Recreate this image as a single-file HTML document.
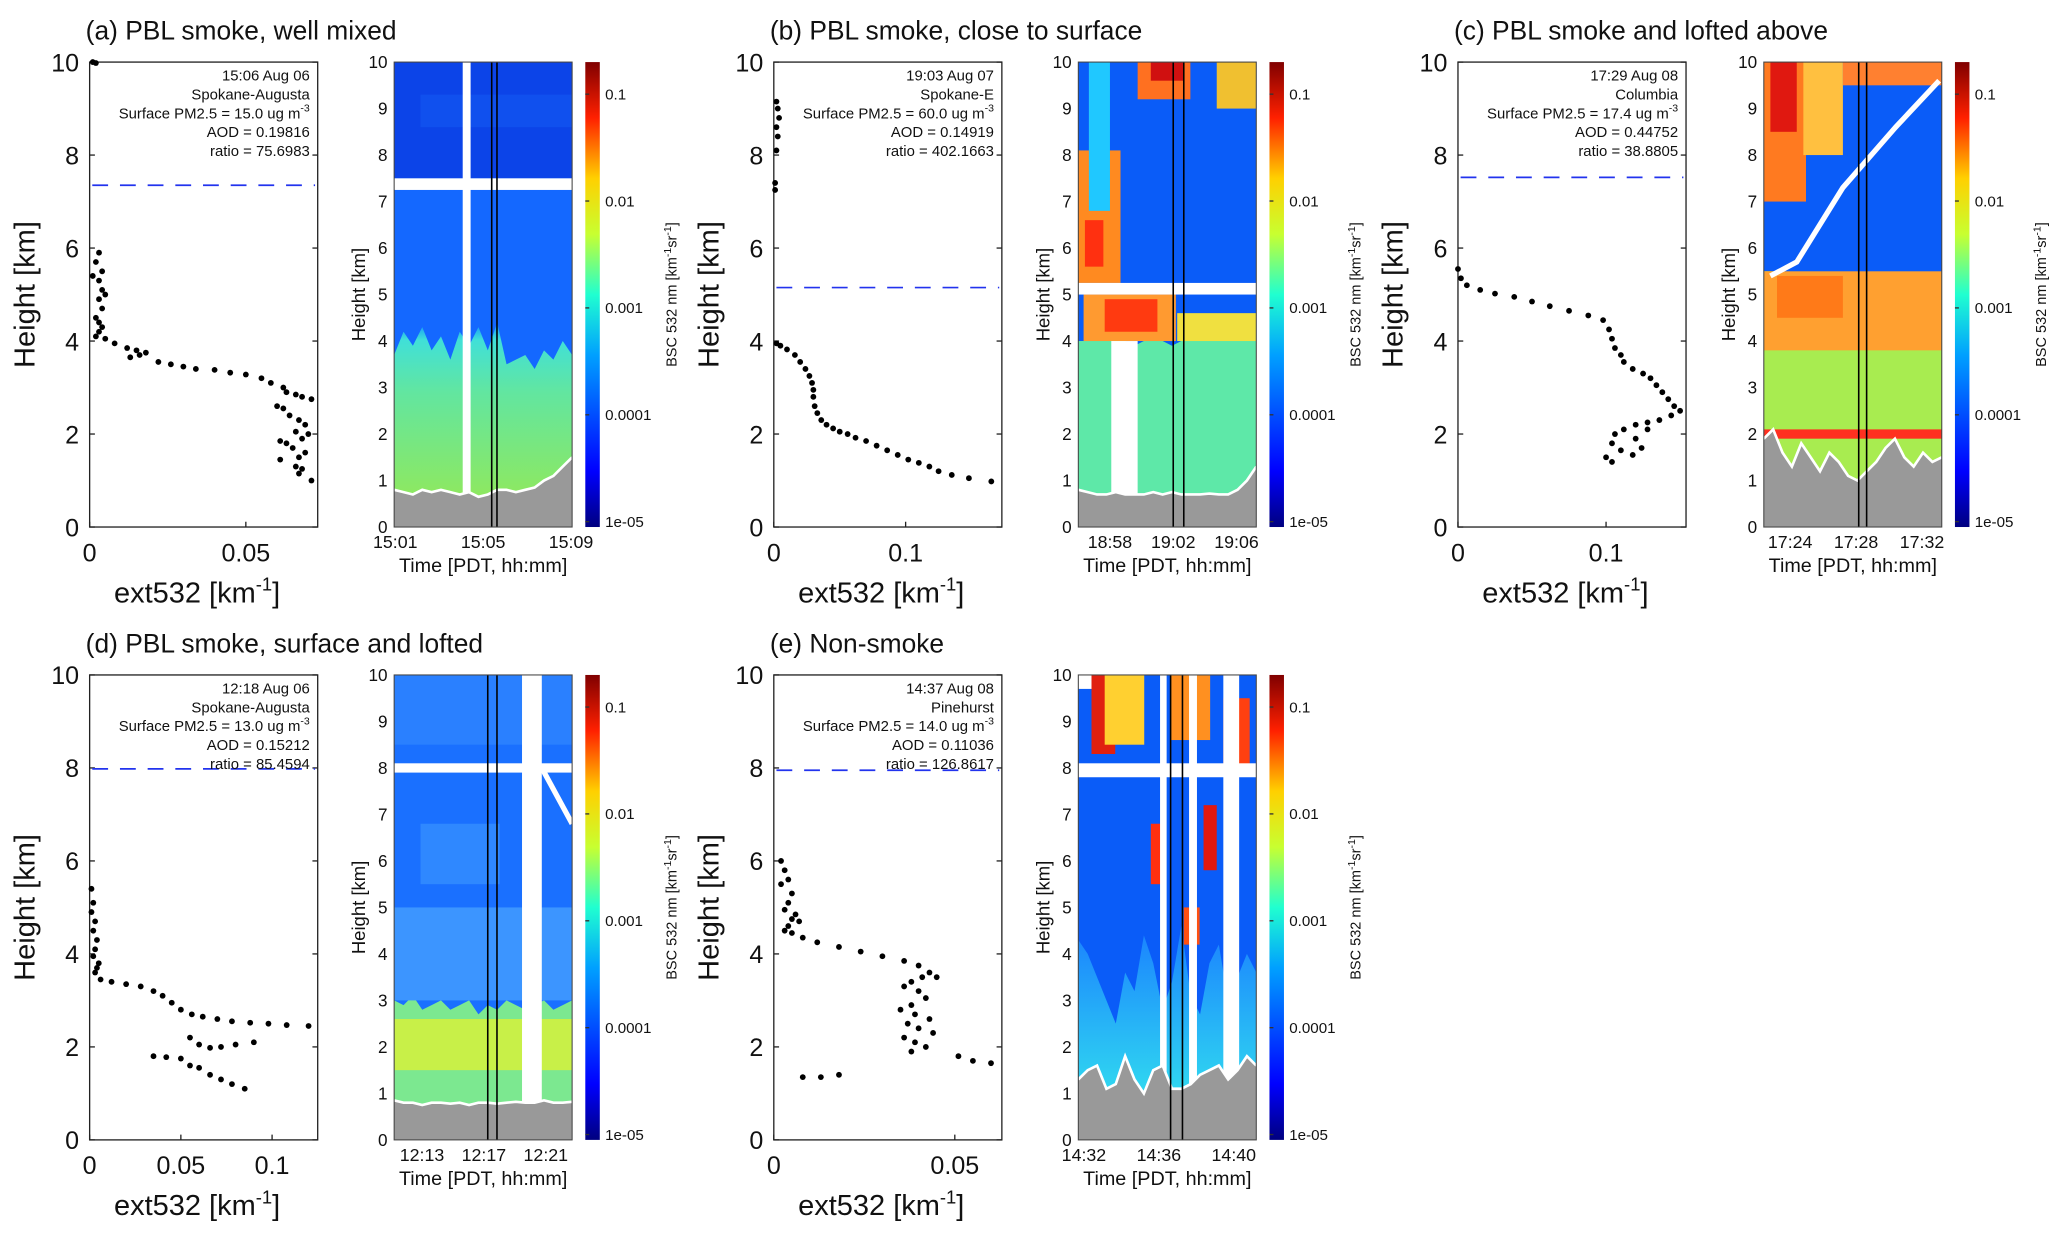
<!DOCTYPE html>
<html><head><meta charset="utf-8"><title>PBL smoke profiles</title>
<style>
html,body{margin:0;padding:0;background:#fff;}
svg{display:block;}
text{font-family:"Liberation Sans",Arial,sans-serif;fill:#111;}
</style></head>
<body>
<svg id="fig" xmlns="http://www.w3.org/2000/svg" width="2067" height="1235" viewBox="0 0 1568 935" preserveAspectRatio="none">
<defs>
<linearGradient id="jet" x1="0" y1="1" x2="0" y2="0">
<stop offset="0" stop-color="#00007f"/><stop offset="0.12" stop-color="#0000ff"/>
<stop offset="0.37" stop-color="#00a0ff"/><stop offset="0.5" stop-color="#20ffd0"/>
<stop offset="0.63" stop-color="#c8ff30"/><stop offset="0.75" stop-color="#ffd000"/>
<stop offset="0.88" stop-color="#ff2000"/><stop offset="1" stop-color="#800000"/>
</linearGradient>
<linearGradient id="aer" x1="0" y1="1" x2="0" y2="0">
<stop offset="0" stop-color="#8ee860"/><stop offset="0.6" stop-color="#62e6a0"/><stop offset="0.9" stop-color="#40e0d8"/><stop offset="1" stop-color="#1090ff"/>
</linearGradient>
<linearGradient id="aerE" x1="0" y1="1" x2="0" y2="0">
<stop offset="0" stop-color="#30d8f0"/><stop offset="1" stop-color="#1a80ff"/>
</linearGradient>
</defs>
</svg>
<script>
// ---- data ----
const aExt=[0.001,0.002,0.003,0.002,0.004,0.003,0.001,0.004,0.003,0.005,0.004,0.002,0.003,0.004,0.003,0.002,0.005,0.008,0.012,0.015,0.016,0.013,0.018,0.022,0.026,0.03,0.034,0.04,0.045,0.05,0.055,0.058,0.062,0.063,0.066,0.06,0.068,0.071,0.062,0.064,0.067,0.069,0.066,0.07,0.068,0.061,0.063,0.065,0.069,0.067,0.061,0.066,0.068,0.067,0.071];
const aH=[10,9.98,5.9,5.7,5.5,5.3,5.4,5.1,4.9,5.0,4.7,4.5,4.4,4.3,4.2,4.1,4.05,3.95,3.85,3.8,3.7,3.65,3.75,3.55,3.5,3.45,3.4,3.38,3.32,3.28,3.2,3.1,3.0,2.9,2.85,2.6,2.8,2.75,2.55,2.4,2.3,2.2,2.05,2.0,1.9,1.85,1.8,1.7,1.6,1.5,1.45,1.3,1.25,1.15,1.0];
const bExt=[0.002,0.003,0.004,0.002,0.003,0.002,0.001,0.001,0.002,0.005,0.01,0.016,0.02,0.024,0.027,0.029,0.03,0.03,0.031,0.033,0.036,0.04,0.045,0.05,0.056,0.062,0.07,0.078,0.086,0.094,0.102,0.11,0.118,0.125,0.135,0.148,0.165];
const bH=[9.15,9.0,8.8,8.6,8.4,8.1,7.4,7.25,3.95,3.9,3.82,3.7,3.55,3.4,3.25,3.1,2.95,2.8,2.6,2.45,2.3,2.2,2.12,2.05,2.0,1.92,1.85,1.75,1.65,1.55,1.45,1.38,1.3,1.2,1.12,1.05,0.98];
const cExt=[0.0,0.002,0.006,0.015,0.025,0.038,0.05,0.062,0.075,0.088,0.098,0.102,0.104,0.106,0.11,0.112,0.118,0.125,0.13,0.134,0.138,0.142,0.146,0.15,0.144,0.136,0.128,0.12,0.112,0.106,0.104,0.11,0.118,0.124,0.1,0.104,0.12,0.128];
const cH=[5.55,5.35,5.2,5.1,5.02,4.95,4.85,4.75,4.65,4.55,4.45,4.25,4.05,3.85,3.7,3.55,3.4,3.3,3.2,3.05,2.9,2.75,2.6,2.5,2.4,2.3,2.25,2.2,2.1,2.0,1.8,1.65,1.55,1.7,1.5,1.4,1.9,2.1];
const dExt=[0.001,0.002,0.001,0.003,0.002,0.004,0.003,0.002,0.005,0.004,0.003,0.006,0.012,0.02,0.028,0.035,0.04,0.045,0.05,0.056,0.062,0.07,0.078,0.088,0.098,0.108,0.12,0.055,0.06,0.066,0.072,0.08,0.09,0.035,0.042,0.05,0.055,0.06,0.066,0.072,0.078,0.085];
const dH=[5.4,5.1,4.9,4.7,4.5,4.3,4.1,3.95,3.8,3.7,3.6,3.45,3.4,3.35,3.3,3.2,3.1,2.95,2.8,2.7,2.65,2.6,2.55,2.52,2.5,2.47,2.45,2.2,2.05,1.98,2.0,2.05,2.1,1.8,1.78,1.75,1.6,1.55,1.4,1.3,1.2,1.1];
const eExt=[0.002,0.003,0.004,0.002,0.005,0.004,0.003,0.006,0.005,0.007,0.004,0.003,0.005,0.008,0.012,0.018,0.024,0.03,0.036,0.04,0.043,0.041,0.038,0.036,0.04,0.042,0.038,0.035,0.039,0.043,0.037,0.04,0.044,0.036,0.039,0.042,0.038,0.045,0.051,0.055,0.06,0.008,0.013,0.018];
const eH=[6.0,5.8,5.6,5.5,5.3,5.1,4.95,4.85,4.75,4.7,4.6,4.5,4.45,4.35,4.25,4.15,4.05,3.95,3.85,3.75,3.6,3.5,3.4,3.3,3.2,3.05,2.9,2.8,2.7,2.6,2.5,2.4,2.3,2.2,2.1,2.0,1.9,3.5,1.8,1.7,1.65,1.35,1.35,1.4];
const xTickA=[0,0.05], xTickB=[0,0.1], xTickC=[0,0.1], xTickD=[0,0.05,0.1], xTickE=[0,0.05];
const yTicksProfile=[0,2,4,6,8,10];
const yTicksCurtain=[0,1,2,3,4,5,6,7,8,9,10];
const cbTicks=[1e-5,1e-4,1e-3,1e-2,1e-1];
const cbLabels=['1e-05','0.0001','0.001','0.01','0.1'];
const timeLabelsA=['15:01','15:05','15:09'], timeLabelsB=['18:58','19:02','19:06'], timeLabelsC=['17:24','17:28','17:32'], timeLabelsD=['12:13','12:17','12:21'], timeLabelsE=['14:32','14:36','14:40'];
const timeTicks=[0,4,8];
// curtain layer heights (km) per time column
const aAerTop=[3.7,4.2,3.9,4.3,3.8,4.1,3.6,4.2,3.9,4.3,3.8,4.4,3.5,3.6,3.7,3.4,3.8,3.6,4.0,3.7];
const aGround=[0.8,0.75,0.7,0.8,0.75,0.8,0.75,0.7,0.75,0.65,0.7,0.8,0.8,0.75,0.8,0.85,1.0,1.1,1.3,1.5];
const bAerTop=[4.0,4.0,4.0,4.0,4.1,4.0,3.9,4.0,4.1,4.0,3.9,4.0,4.0,4.0,4.0,4.0,4.0,4.0,4.0,4.0];
const bGround=[0.8,0.75,0.7,0.7,0.75,0.7,0.7,0.7,0.75,0.7,0.75,0.7,0.7,0.7,0.72,0.7,0.7,0.8,1.0,1.3];
const cAerTop=[5.5,5.5,5.5,5.4,5.2,5.1,5.2,5.0,5.3,5.2,5.4,5.3,5.2,5.1,5.3,5.2,5.0,5.2,5.1,5.0];
const cGround=[1.9,2.1,1.6,1.3,1.8,1.5,1.2,1.6,1.4,1.1,1.0,1.2,1.4,1.7,1.9,1.5,1.3,1.6,1.4,1.5];
const dAerTop=[3.0,2.9,3.1,2.8,2.9,3.0,2.8,2.9,3.0,2.7,2.9,2.8,3.0,2.9,2.8,2.9,3.0,2.8,2.9,3.0];
const dGround=[0.85,0.8,0.8,0.75,0.8,0.8,0.78,0.8,0.75,0.8,0.8,0.78,0.8,0.82,0.8,0.8,0.85,0.8,0.8,0.82];
const eAerTop=[4.3,4.0,3.5,3.0,2.5,3.6,3.2,4.4,3.8,2.8,3.4,4.6,3.1,2.7,3.8,4.2,3.0,3.5,4.0,3.6];
const eGround=[1.3,1.5,1.6,1.1,1.2,1.8,1.3,1.0,1.5,1.6,1.1,1.1,1.2,1.4,1.5,1.6,1.3,1.5,1.8,1.6];

const NS='http://www.w3.org/2000/svg';
const svg=document.getElementById('fig');
function mk(tag,attrs,parent){const e=document.createElementNS(NS,tag);for(const k in attrs)e.setAttribute(k,attrs[k]);(parent||svg).appendChild(e);return e;}
function txt(s,attrs,parent){const e=mk('text',attrs,parent);e.textContent=s;return e;}

const panels=[
 {id:'a',title:'(a) PBL smoke, well mixed',px:68,cx:299,y0:47,xmax:0.073,xt:xTickA,ext:aExt,h:aH,dash:7.35,info:['15:06 Aug 06','Spokane-Augusta','Surface PM2.5 = 15.0 ug m','AOD = 0.19816','ratio = 75.6983'],tl:timeLabelsA,t0:-0.05,t1:8.05,aer:aAerTop,gr:aGround,kind:'a',black:[373,377]},
 {id:'b',title:'(b) PBL smoke, close to surface',px:587,cx:818,y0:47,xmax:0.173,xt:xTickB,ext:bExt,h:bH,dash:5.15,info:['19:03 Aug 07','Spokane-E','Surface PM2.5 = 60.0 ug m','AOD = 0.14919','ratio = 402.1663'],tl:timeLabelsB,t0:-2,t1:9.25,aer:bAerTop,gr:bGround,kind:'b',black:[890,898]},
 {id:'c',title:'(c) PBL smoke and lofted above',px:1106,cx:1338,y0:47,xmax:0.154,xt:xTickC,ext:cExt,h:cH,dash:7.52,info:['17:29 Aug 08','Columbia','Surface PM2.5 = 17.4 ug m','AOD = 0.44752','ratio = 38.8805'],tl:timeLabelsC,t0:-1.6,t1:9.2,aer:cAerTop,gr:cGround,kind:'c',black:[1410,1416]},
 {id:'d',title:'(d) PBL smoke, surface and lofted',px:68,cx:299,y0:511,xmax:0.125,xt:xTickD,ext:dExt,h:dH,dash:7.98,info:['12:18 Aug 06','Spokane-Augusta','Surface PM2.5 = 13.0 ug m','AOD = 0.15212','ratio = 85.4594'],tl:timeLabelsD,t0:-1.8,t1:9.7,aer:dAerTop,gr:dGround,kind:'d',black:[370,377]},
 {id:'e',title:'(e) Non-smoke',px:587,cx:818,y0:511,xmax:0.063,xt:xTickE,ext:eExt,h:eH,dash:7.95,info:['14:37 Aug 08','Pinehurst','Surface PM2.5 = 14.0 ug m','AOD = 0.11036','ratio = 126.8617'],tl:timeLabelsE,t0:-0.3,t1:9.2,aer:eAerTop,gr:eGround,kind:'e',black:[888,897]}
];
const PW=173, CW=135, H=352;

panels.forEach(p=>{
 const g=mk('g',{});
 
 
 const t=txt(p.title,{x:p.px-3,y:p.y0-17,'font-size':20},g);
 
 
 // ---- profile ----
 const yS=v=>p.y0+H-v/10*H;
 const xS=v=>p.px+v/p.xmax*PW;
 const pf=mk('g',{},g);
 
 
 const box=mk('rect',{x:p.px,y:p.y0,width:PW,height:H,fill:'none',stroke:'#222','stroke-width':1},pf);
 
 
 yTicksProfile.forEach(v=>{
  mk('line',{x1:p.px,x2:p.px+4,y1:yS(v),y2:yS(v),stroke:'#222'},pf);
  mk('line',{x1:p.px+PW-4,x2:p.px+PW,y1:yS(v),y2:yS(v),stroke:'#222'},pf);
  const l=txt(String(v),{x:p.px-8,y:yS(v)+7,'font-size':19,'text-anchor':'end'},pf);
  
  
 });
 p.xt.forEach(v=>{
  mk('line',{x1:xS(v),x2:xS(v),y1:p.y0+H,y2:p.y0+H-4,stroke:'#222'},pf);
  const l=txt(String(v),{x:xS(v),y:p.y0+H+26,'font-size':19,'text-anchor':'middle'},pf);
  
  
 });
 const yl=txt('Height [km]',{x:0,y:0,'font-size':22,'text-anchor':'middle',transform:`translate(${p.px-42},${p.y0+H/2}) rotate(-90)`},pf);
 
 
 const xl=mk('text',{x:p.px+PW/2-5,y:p.y0+H+57,'font-size':22,'text-anchor':'middle'},pf);
 xl.innerHTML='ext532 [km<tspan dy="-9" font-size="14">-1</tspan><tspan dy="9">]</tspan>';
 
 
 const dl=mk('line',{x1:p.px+2,x2:p.px+PW-2,y1:yS(p.dash),y2:yS(p.dash),stroke:'#2233ee','stroke-width':1.3,'stroke-dasharray':'12,9'},pf);
 
 
 p.info.forEach((s,i)=>{
  const it=txt(s,{x:p.px+PW-6,y:p.y0+14+i*14.3,'font-size':11.3,'text-anchor':'end'},pf);
  if(i===2){const ts=document.createElementNS(NS,'tspan');ts.setAttribute('dy','-5');ts.setAttribute('font-size','8');ts.textContent='-3';it.appendChild(ts);}
  
  
 });
 p.ext.forEach((v,i)=>{
  const c=mk('circle',{cx:xS(v),cy:yS(p.h[i]),r:2.2,fill:'#000'},pf);
  
  
 });
 // ---- curtain ----
 const cg=mk('g',{},g);
 
 
 const cy=v=>p.y0+H-v/10*H;
 const tx=m=>p.cx+(m-p.t0)/(p.t1-p.t0)*CW;
 const X0=p.cx,X1=p.cx+CW;
 const R=(x,y1,w,y2,f,nm)=>{const r=mk('rect',{x:x,y:cy(y2),width:w,height:cy(y1)-cy(y2),fill:f},cg);return r;};
 const bgCol={a:'#1468ff',b:'#0a5cf8',c:'#0a5cf8',d:'#1a70ff',e:'#0a5cf8'}[p.kind];
 R(X0,0,CW,10,bgCol,'curtain-background');
 const n=p.aer.length, colX=i=>X0+i/(n-1)*CW;
 let aerPts=[];p.aer.forEach((v,i)=>aerPts.push(colX(i)+','+cy(v)));
 for(let i=n-1;i>=0;i--)aerPts.push(colX(i)+','+cy(p.gr[i]));
 const aerFill={a:'url(#aer)',b:'#5ee8a8',c:'#a8ec50',d:'#7ce890',e:'url(#aerE)'}[p.kind];
 const ap=mk('polygon',{points:aerPts.join(' '),fill:aerFill},cg);
 
 
 if(p.kind==='a'){R(X0,7.5,CW,10,'#0c44e8','upper-layer');R(X0+20,8.6,CW-20,9.3,'#1050ee','upper-layer-band');R(X0,7.25,CW,7.5,'#fff','data-gap');R(351,0.7,6,10,'#fff','data-gap');}
 if(p.kind==='b'){
  R(X0,5.25,32,8.1,'#ff8a20');R(X0+5,5.6,14,6.6,'#ff3010');R(X0+8,6.8,16,10,'#20c8ff');R(X0+4,4.0,70,5.0,'#ff9a30');R(X0+20,4.2,40,4.9,'#ff3a10');R(X0+75,4.0,60,4.6,'#f0e040');
  R(X0+45,9.2,40,10,'#ff7020');R(X0+55,9.6,25,10,'#d01010');R(X0+105,9.0,30,10,'#f0c030');
  R(X0,5.0,CW,5.25,'#fff','data-gap');R(X0+25,0.7,20,4.0,'#fff','data-gap');
 }
 if(p.kind==='c'){
  R(X0,7.0,32,10,'#ff7a20');R(X0+5,8.5,20,10,'#e01810');R(X0+30,8.0,30,10,'#ffc040');R(X0+60,9.5,75,10,'#ff8030');R(X0,3.8,CW,5.5,'#ffa030');R(X0+10,4.5,50,5.4,'#ff7a18');
  R(X0,1.9,CW,2.1,'#ff3020');
  const dg=mk('polyline',{points:`${X0+5},${cy(5.4)} ${X0+25},${cy(5.7)} ${X0+60},${cy(7.3)} ${X0+100},${cy(8.6)} ${X1-2},${cy(9.6)}`,fill:'none',stroke:'#fff','stroke-width':4},cg);
  
  
 }
 if(p.kind==='d'){
  R(X0,3.0,CW,5.0,'#3c95ff');R(X0,8.5,CW,10,'#2a80ff');R(X0+20,5.5,60,6.8,'#2f88ff');R(X0,1.5,CW,2.6,'#c8f048');
  R(X0,7.9,CW,8.1,'#fff','data-gap');R(396,0.8,15,10,'#fff','data-gap');
  const dg=mk('line',{x1:411,y1:cy(8.0),x2:434,y2:cy(6.8),stroke:'#fff','stroke-width':4},cg);
  
  
 }
 if(p.kind==='e'){
  R(X0+10,8.3,18,10,'#e02010');R(X0+70,8.6,30,10,'#ff9020');R(X0+110,8.0,20,9.5,'#ff4010');R(X0+55,5.5,8,6.8,'#ff3010');R(X0+95,5.8,10,7.2,'#e01810');R(X0+80,4.2,12,5.0,'#ff5010');R(X0+20,8.5,30,10,'#ffd030');
  R(X0,7.8,CW,8.1,'#fff','data-gap');R(880,0.6,5,10,'#fff','data-gap');R(902,0.6,6,10,'#fff','data-gap');R(928,0.6,12,10,'#fff','data-gap');R(X0,9.7,10,10,'#fff','data-gap');
 }
 let grPts=[X0+','+cy(0)];p.gr.forEach((v,i)=>grPts.push(colX(i)+','+cy(v)));grPts.push(X1+','+cy(0));
 const gp=mk('polygon',{points:grPts.join(' '),fill:'#999'},cg);
 
 
 const gl=mk('polyline',{points:grPts.slice(1,-1).join(' '),fill:'none',stroke:'#fff','stroke-width':2},cg);
 
 
 p.black.forEach(x=>{const l=mk('line',{x1:x,x2:x,y1:p.y0,y2:p.y0+H,stroke:'#000','stroke-width':1.2},cg);});
 mk('rect',{x:X0,y:p.y0,width:CW,height:H,fill:'none',stroke:'#444','stroke-width':0.8},cg);
 yTicksCurtain.forEach(v=>{const l=txt(String(v),{x:X0-5,y:cy(v)+4.5,'font-size':13,'text-anchor':'end'},cg);});
 timeTicks.forEach((m,i)=>{const l=txt(p.tl[i],{x:tx(m),y:p.y0+H+16,'font-size':13.5,'text-anchor':'middle'},cg);});
 const cyl=txt('Height [km]',{x:0,y:0,'font-size':14,'text-anchor':'middle',transform:`translate(${X0-22},${p.y0+H/2}) rotate(-90)`},cg);
 
 
 const cxl=txt('Time [PDT, hh:mm]',{x:X0+CW/2,y:p.y0+H+34,'font-size':15,'text-anchor':'middle'},cg);
 
 
 // ---- colorbar ----
 const cb=mk('g',{},g);
 
 
 const bx=X1+10;
 mk('rect',{x:bx,y:p.y0,width:11,height:H,fill:'url(#jet)'},cb);
 const lS=v=>p.y0+H-(Math.log10(v)+5.05)/4.35*H;
 cbTicks.forEach((v,i)=>{
  mk('line',{x1:bx,x2:bx+3,y1:lS(v),y2:lS(v),stroke:'#333'},cb);
  const l=txt(cbLabels[i],{x:bx+15,y:lS(v)+4,'font-size':11.5},cb);
  
  
 });
 const bl=mk('text',{x:0,y:0,'font-size':11,'text-anchor':'middle',transform:`translate(${bx+69},${p.y0+H/2}) rotate(-90)`},cb);
 bl.innerHTML='BSC 532 nm [km<tspan dy="-4" font-size="8">-1</tspan><tspan dy="4">sr</tspan><tspan dy="-4" font-size="8">-1</tspan><tspan dy="4">]</tspan>';
 
 
});
</script>
</body></html>
